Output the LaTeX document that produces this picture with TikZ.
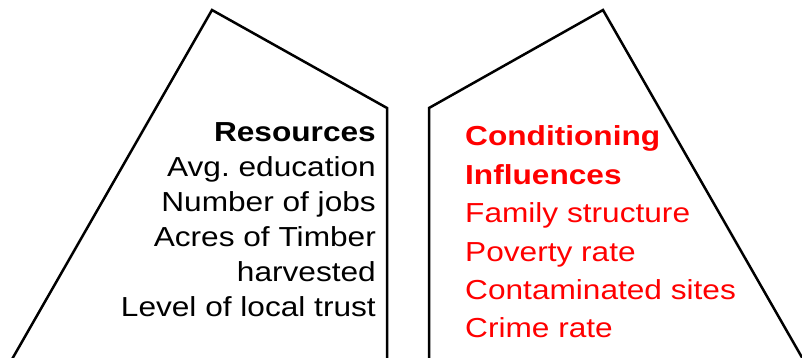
\documentclass[tikz,border=0pt]{standalone}
\usepackage{fontspec}
\setmainfont{Liberation Sans}
\newfontfamily\widesans[FakeStretch=1.15]{Liberation Sans}
\usepackage{xcolor}

\begin{document}
\begin{tikzpicture}[x=1pt,y=-1pt]

        \tikzset{
            outline/.style={draw=black, line width=2.5pt, line join=miter},
            listtext/.style={inner sep=0pt},
            listtext_left/.style={listtext, align=right, anchor=base east, text=black,
                font=\widesans\fontsize{27.5}{35}\selectfont},
            listtext_right/.style={listtext, align=left, anchor=base west, text=red,
                font=\widesans\fontsize{27.5}{38.4}\selectfont}
        }

        \useasboundingbox (0,0) rectangle (802,357);

        \draw[outline] (11,361) -- (212,10) -- (387,108) -- (387,361);
        \draw[outline] (429,361) -- (429,108) -- (603,10) -- (804,361);

        % anchored at the baseline of the last line
        \node[listtext_left] (resources) at (376,316.7)
            {\textbf{Resources}\\Avg.\ education\\Number of jobs\\Acres of Timber\\harvested\\Level of local trust};

        \node[listtext_right] (influences) at (465,337.9)
            {\textbf{Conditioning}\\\textbf{Influences}\\Family structure\\Poverty rate\\Contaminated sites\\Crime rate};

    \end{tikzpicture}
\end{document}
